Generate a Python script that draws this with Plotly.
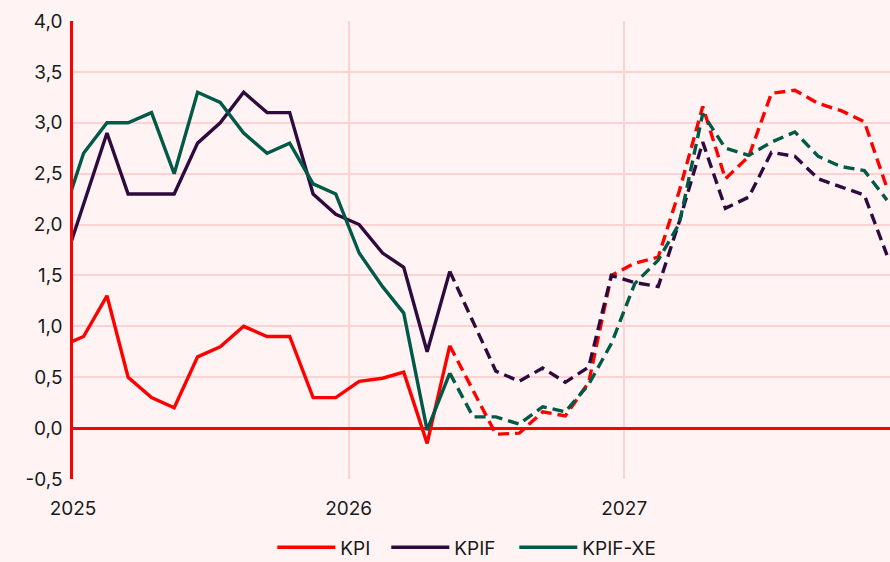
import plotly.graph_objects as go

months_solid = ["2024-12-15","2025-01-15","2025-02-15","2025-03-15","2025-04-15","2025-05-15",
                "2025-06-15","2025-07-15","2025-08-15","2025-09-15","2025-10-15","2025-11-15",
                "2025-12-15","2026-01-15","2026-02-15","2026-03-15","2026-04-15","2026-05-15"]
months_dash = ["2026-05-15","2026-06-15","2026-07-15","2026-08-15","2026-09-15","2026-10-15",
               "2026-11-15","2026-12-15","2027-01-15","2027-02-15","2027-03-15","2027-04-15",
               "2027-05-15","2027-06-15","2027-07-15","2027-08-15","2027-09-15","2027-10-15",
               "2027-11-15","2027-12-15"]

kpi_solid = [0.8, 0.9, 1.3, 0.5, 0.3, 0.2, 0.7, 0.8, 1.0, 0.9, 0.9, 0.3, 0.3, 0.46, 0.49, 0.55, -0.15, 0.81]
kpi_dash = [0.81, 0.37, -0.06, -0.05, 0.16, 0.12, 0.45, 1.5, 1.62, 1.68, 2.33, 3.16, 2.45, 2.67, 3.29, 3.32, 3.19, 3.12, 3.01, 2.36]

kpif_solid = [1.5, 2.2, 2.9, 2.3, 2.3, 2.3, 2.8, 3.0, 3.3, 3.1, 3.1, 2.3, 2.1, 2.0, 1.72, 1.58, 0.75, 1.54]
kpif_dash = [1.54, 1.04, 0.56, 0.46, 0.59, 0.45, 0.6, 1.5, 1.43, 1.39, 2.03, 2.81, 2.16, 2.27, 2.71, 2.67, 2.45, 2.37, 2.29, 1.70]

kpifxe_solid = [2.0, 2.7, 3.0, 3.0, 3.1, 2.5, 3.3, 3.2, 2.9, 2.7, 2.8, 2.4, 2.3, 1.72, 1.39, 1.13, -0.02, 0.54]
kpifxe_dash = [0.54, 0.11, 0.11, 0.04, 0.21, 0.16, 0.43, 0.83, 1.42, 1.65, 2.01, 3.09, 2.75, 2.68, 2.81, 2.91, 2.67, 2.57, 2.53, 2.24]

series_names = ["KPI", "KPIF", "KPIF-XE"]
colors = ["#ff0000", "#2e0a3e", "#005a47"]
legend_widths = [41, 55, None]

y_tickvals = [-0.5, 0, 0.5, 1, 1.5, 2, 2.5, 3, 3.5, 4]
y_ticktext = ["-0,5", "0,0", "0,5", "1,0", "1,5", "2,0", "2,5", "3,0", "3,5", "4,0"]
x_tickvals = ["2025-01-01", "2026-01-01", "2027-01-01"]
x_ticktext = ["2025", "2026", "2027"]

fig = go.Figure()
solids = [kpi_solid, kpif_solid, kpifxe_solid]
dashes = [kpi_dash, kpif_dash, kpifxe_dash]
for name, col, s, d, lw in zip(series_names, colors, solids, dashes, legend_widths):
    tr = go.Scatter(x=months_solid, y=s, mode="lines", name=name,
                    line=dict(color=col, width=3.4), legendgroup=name)
    if lw:
        tr.legendwidth = lw
    fig.add_trace(tr)
    fig.add_trace(go.Scatter(x=months_dash, y=d, mode="lines", name=name, showlegend=False,
                             line=dict(color=col, width=3.4, dash="11px,6px"), legendgroup=name))

bg = "#fff4f3"
grid = "#ffd2d2"
fig.update_layout(
    width=890, height=562,
    margin=dict(l=73, r=0, t=21, b=83, autoexpand=False),
    paper_bgcolor=bg, plot_bgcolor=bg,
    font=dict(family="Inter, Lato, sans-serif", size=19, color="#1a1a1a"),
    showlegend=True,
    legend=dict(orientation="h", x=0.482, xanchor="center", y=-0.108, yanchor="top",
                itemwidth=58, font=dict(size=19), bgcolor="rgba(0,0,0,0)",
                tracegroupgap=0),
    xaxis=dict(type="date", range=["2025-01-01", "2027-12-19"],
               tickvals=x_tickvals, ticktext=x_ticktext,
               showgrid=True, gridcolor=grid, gridwidth=1.5,
               showline=False, zeroline=False, ticks="",
               ticklabelstandoff=16),
    yaxis=dict(range=[-0.5, 4.0], tickvals=y_tickvals, ticktext=y_ticktext,
               showgrid=True, gridcolor=grid, gridwidth=1.5,
               zeroline=True, zerolinecolor="#ff0000", zerolinewidth=2.5,
               showline=True, linecolor="#ff0000", linewidth=2.5,
               ticks="", ticklabelstandoff=4),
)

fig.write_html("out.html", config={"displayModeBar": False},
               post_script="document.body.style.margin='0';document.body.style.overflow='hidden';")
